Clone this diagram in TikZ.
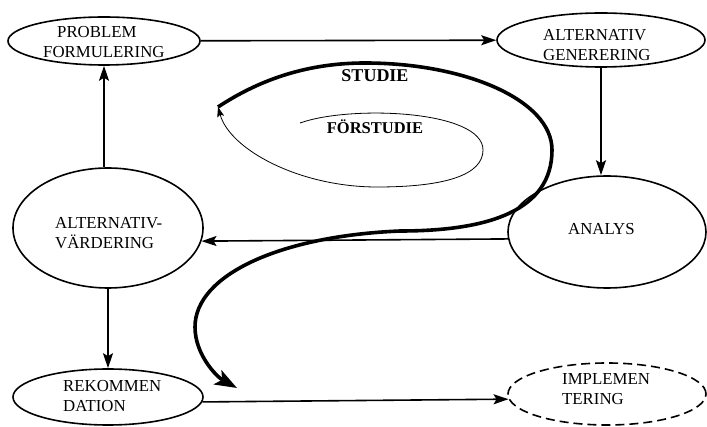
\documentclass[tikz,border=0pt]{standalone}
\usepackage{fontspec}
\setmainfont{Liberation Serif}
\usetikzlibrary{shapes.geometric,arrows.meta}
\begin{document}
\begin{tikzpicture}[x=1pt,y=-1pt,
  stage/.style={draw, ellipse, line width=1.6pt, inner sep=0pt},
  stagetext/.style={anchor=base west, align=left, inner sep=0pt,
    font=\fontsize{16.8}{20}\selectfont},
  flow/.style={line width=1.6pt, -{Stealth[length=15pt,width=10pt,inset=3pt]}},
  studypath/.style={line width=3.6pt, -{Stealth[length=22pt,width=16pt,inset=5pt]}},
  prestudypath/.style={line width=0.8pt, -{Stealth[length=10pt,width=7pt,inset=2pt]}},
  phasetext/.style={anchor=base, inner sep=0pt, font=\bfseries}]
\useasboundingbox (0,0) rectangle (707,427);

% process stages
\node[stage, minimum width=192pt, minimum height=48pt] (pf) at (104,41) {};
\node[stage, minimum width=208pt, minimum height=54pt] (ag) at (601,40) {};
\node[stage, minimum width=190pt, minimum height=120pt] (av) at (108,228) {};
\node[stage, minimum width=198pt, minimum height=112pt] (an) at (607,232) {};
\node[stage, minimum width=190pt, minimum height=56pt] (rk) at (108,397) {};
\node[stage, dashed, dash pattern=on 9pt off 5pt, minimum width=198pt, minimum height=62pt] (im) at (607,394) {};

% stage names (anchored at the baseline of the last line)
\node[stagetext] (pf-t) at (43,58) {\hspace*{14pt}PROBLEM\\FORMULERING};
\node[stagetext] (ag-t) at (543,61) {ALTERNATIV\\GENERERING};
\node[stagetext] (av-t) at (55,249) {ALTERNATIV-\\VÄRDERING};
\node[stagetext] (an-t) at (568,235) {ANALYS};
\node[stagetext] (rk-t) at (63,412) {REKOMMEN\\DATION};
\node[stagetext] (im-t) at (562,405) {IMPLEMEN\\TERING};

% flow between stages
\draw[flow] (pf) -- (ag);
\draw[flow] (ag.south) -- (ag.south |- an.north);
\draw[flow] (an.184) -- (av.352);
\draw[flow] (av.north -| pf.south) -- (pf.south);
\draw[flow] (av.south) -- (rk.north);
\draw[flow] (rk.357) -- (im.183);

% study spiral
\coordinate (s0) at (218,107);
\coordinate (s1) at (365,63);
\coordinate (s2) at (552,150);
\coordinate (s3) at (400,231);
\coordinate (s4) at (195,327);
\coordinate (s5) at (237,388);
\draw[studypath] (s0) .. controls (262,78) and (310,63) .. (s1)
  .. controls (465,63) and (552,100) .. (s2)
  .. controls (552,210) and (490,231) .. (s3)
  .. controls (280,236) and (195,275) .. (s4)
  .. controls (195,355) and (217,377) .. (s5);

% pre-study loop
\coordinate (f0) at (300,123);
\coordinate (f1) at (483,150);
\coordinate (f2) at (377,187);
\draw[prestudypath] (f0) .. controls (350,105) and (483,110) .. (f1)
  .. controls (483,175) and (445,187) .. (f2)
  .. controls (300,187) and (230,150) .. (s0);

\node[phasetext, font=\bfseries\fontsize{18}{20}\selectfont] (studie) at (375,82) {STUDIE};
\node[phasetext, font=\bfseries\fontsize{16.5}{19}\selectfont] (forstudie) at (375,134) {FÖRSTUDIE};
\end{tikzpicture}
\end{document}
